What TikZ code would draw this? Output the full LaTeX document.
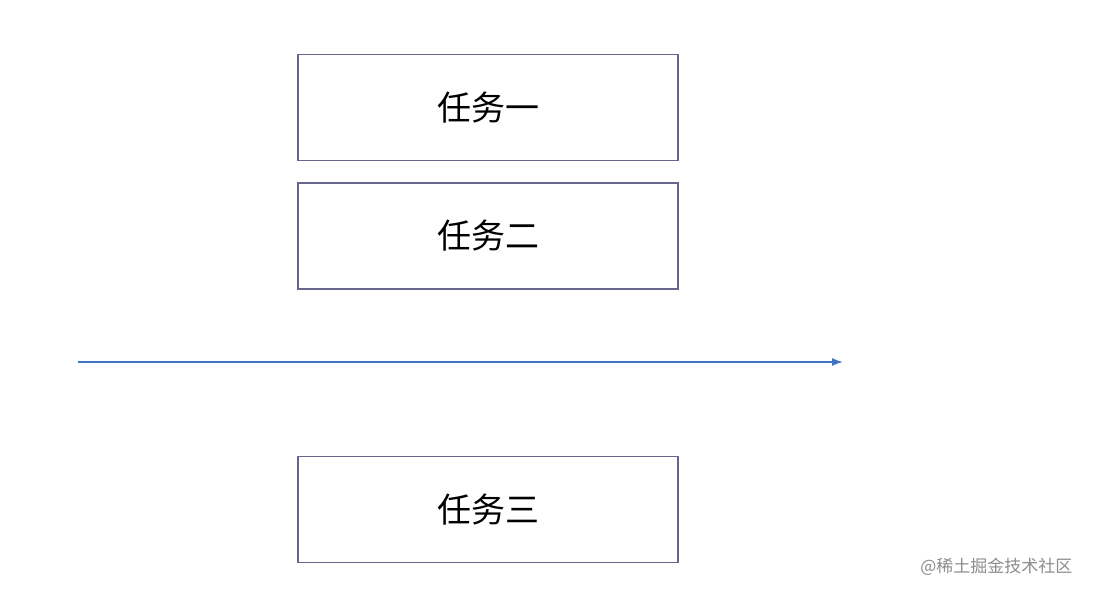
\documentclass[tikz,border=0pt]{standalone}
\usepackage{fontspec}
\newfontfamily\cjk{Noto Sans CJK SC}
\begin{document}
\begin{tikzpicture}[x=1pt,y=-1pt,
  task/.style={draw=black!75!blue!60, line width=1.3pt, minimum width=380pt, minimum height=106pt, inner sep=0pt, font=\cjk\fontsize{34}{40}\selectfont},
  arr/.style={draw={rgb,255:red,68;green,114;blue,196}, line width=1.3pt, -{Latex[length=11pt,width=8pt]}}]
\usetikzlibrary{arrows.meta}
\useasboundingbox (0,0) rectangle (1094,596);
\node[task] (t1) at (488,107.5) {任务一};
\node[task] (t2) at (488,236) {任务二};
\node[task] (t3) at (488,509.5) {任务三};
\coordinate (a0) at (78,362);
\coordinate (a1) at (843,362);
\draw[arr] (a0) -- (a1);
\node[font=\cjk\fontsize{17}{20}\selectfont, text=black!45, anchor=east] (wm) at (1076,567) {@稀土掘金技术社区};
\end{tikzpicture}
\end{document}
